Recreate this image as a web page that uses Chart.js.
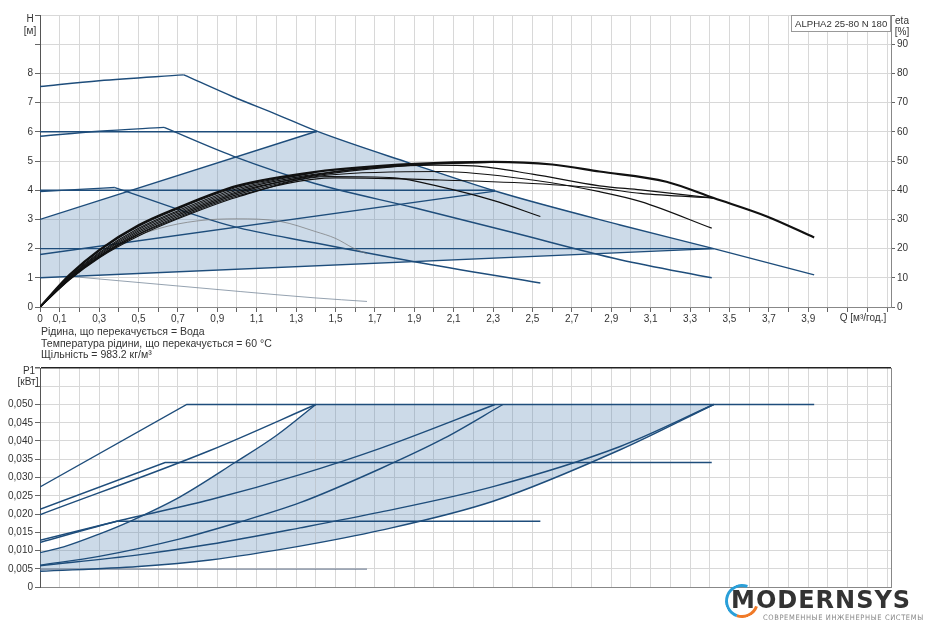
<!DOCTYPE html>
<html>
<head>
<meta charset="utf-8">
<title>ALPHA2 25-80 N 180</title>
<script src="https://cdn.jsdelivr.net/npm/chart.js@4.4.1/dist/chart.umd.min.js"></script>
<style>
    html, body { margin: 0; padding: 0; background: #fff; }
    body { width: 925px; height: 624px; position: relative; overflow: hidden;
           font-family: 'Liberation Sans', Arial, sans-serif; color: #333; }
    canvas { position: absolute; left: 0; }
    #headChart { top: 0; }
    #powerChart { top: 360px; }
    .lbl { position: absolute; font-size: 10px; white-space: nowrap; transform: translate(-50%, -50%); }
    .note { position: absolute; left: 41px; font-size: 10.5px; white-space: nowrap; line-height: 11.5px; }
    #model { position: absolute; left: 791px; top: 15px; width: 100px; height: 17px; border: 1px solid #999;
             background: #fff; font-size: 9.6px; line-height: 15px; padding-left: 3px; box-sizing: border-box;
             white-space: nowrap; overflow: hidden; }
    #ring { position: absolute; left: 725px; top: 584px; width: 28px; height: 28px; border-radius: 50%;
            border: 3px solid; border-color: #2a9fd8 transparent #f07a28 #2a9fd8; transform: rotate(-25deg); }
    #brand { position: absolute; left: 731px; top: 588px; font-family: 'DejaVu Sans', sans-serif; font-weight: bold;
             font-size: 24px; letter-spacing: 1px; color: #333; line-height: 24px; white-space: nowrap; }
    #slogan { position: absolute; left: 763px; top: 613px; font-family: 'DejaVu Sans Condensed', 'DejaVu Sans', sans-serif;
              font-size: 7.5px; letter-spacing: 0.6px; color: #888; line-height: 10px; white-space: nowrap; }
</style>
</head>
<body>
<canvas id="headChart" width="925" height="330"></canvas>
<canvas id="powerChart" width="925" height="240"></canvas>

<div class="lbl" style="left:30px;top:18px">H</div>
<div class="lbl" style="left:30px;top:30px">[м]</div>
<div class="lbl" style="left:902px;top:20px">eta</div>
<div class="lbl" style="left:902px;top:31px">[%]</div>
<div class="lbl" style="left:863px;top:317px">Q [м³/год.]</div>
<div id="model">ALPHA2 25-80 N 180</div>
<div class="note" style="top:326px">Рідина, що перекачується = Вода<br>Температура рідини, що перекачується = 60 °C<br>Щільність = 983.2 кг/м³</div>
<div class="lbl" style="left:29px;top:370px">P1</div>
<div class="lbl" style="left:28px;top:381px">[кВт]</div>

<div id="ring"></div>
<div id="brand">MODERNSYS</div>
<div id="slogan">СОВРЕМЕННЫЕ ИНЖЕНЕРНЫЕ СИСТЕМЫ</div>

<script>
// ===== Head curves [Q m³/h, H m] =====
const curve1Flat = [[0, 3.95], [0.2, 4.03], [0.38, 4.09]];
const curve1Drop = [[0.38, 4.09], [0.98, 2.76], [1.4, 2.19], [1.9, 1.55], [2.54, 0.82]];
const curve2Flat = [[0, 5.85], [0.3, 6.02], [0.63, 6.15]];
const curve2Drop = [[0.63, 6.15], [0.98, 5.17], [1.4, 4.22], [1.9, 3.4], [2.4, 2.55], [2.945, 1.62], [3.41, 1.0]];
const curve3Flat = [[0, 7.55], [0.3, 7.75], [0.73, 7.95]];
const curve3Drop = [[0.73, 7.95], [0.98, 7.2], [1.2, 6.6], [1.405, 6.02], [1.88, 4.92], [2.336, 3.92], [2.945, 2.81], [3.42, 2.0], [3.93, 1.1]];
const cp1 = [[0, 2.0], [3.42, 2.0]];
const cp2 = [[0, 4.0], [2.31, 4.0]];
const cp3 = [[0, 6.0], [1.405, 6.0]];
const pp1 = [[0, 1.0], [3.42, 2.0]];
const pp2 = [[0, 1.8], [2.31, 3.97]];
const pp3 = [[0, 3.0], [1.405, 6.02]];
const minCurve = [[0.15, 1.05], [0.4, 0.9], [0.7, 0.72], [1.016, 0.53], [1.4, 0.31], [1.66, 0.19]];

// ===== Efficiency curves [Q m³/h, eta %] =====
const etaIII = [[0, 0], [0.15, 11], [0.3, 19.5], [0.5, 28], [0.7, 34], [1.0, 41.5], [1.4, 46.3], [1.9, 49], [2.3, 49.7], [2.6, 48.8], [2.84, 46.4], [3.18, 42.9], [3.42, 37.3], [3.69, 31], [3.93, 23.8]];
const etaCP3 = [[0, 0], [0.15, 10.8], [0.3, 19.2], [0.5, 27.6], [0.7, 33.6], [1.0, 41], [1.4, 46.2]];
const etaPP3 = [[0, 0], [0.15, 10.4], [0.3, 18.6], [0.5, 27], [0.7, 33], [1.0, 40.5], [1.4, 46.2]];
const etaCP2 = [[0, 0], [0.15, 10.2], [0.3, 18.2], [0.5, 26.5], [0.7, 32.5], [1.0, 40], [1.4, 45.5], [1.9, 48.8], [2.31, 49.6]];
const etaPP2 = [[0, 0], [0.15, 10], [0.3, 17.8], [0.5, 26], [0.7, 32], [1.0, 39.5], [1.4, 45], [1.9, 48.6], [2.31, 49.6]];
const etaCP1 = [[0, 0], [0.15, 9.8], [0.3, 17.4], [0.5, 25.5], [0.7, 31.5], [1.0, 39], [1.47, 46], [2.0, 48.6], [2.2, 48.3], [2.5, 45.5], [2.84, 41.5], [3.05, 40.1], [3.42, 37.3]];
const etaPP1 = [[0, 0], [0.15, 9.5], [0.3, 17], [0.5, 24.8], [0.7, 30.5], [1.0, 38], [1.5, 44.2], [2.03, 43.5], [2.5, 42.3], [2.84, 40.7], [3.05, 38.9], [3.42, 37.3]];
const etaII = [[0, 0], [0.15, 9.6], [0.3, 17.2], [0.5, 25], [0.7, 31], [1.0, 38.5], [1.47, 45.2], [2.03, 46.4], [2.5, 43.5], [2.84, 39.5], [3.05, 36.1], [3.41, 27]];
const etaI = [[0, 0], [0.15, 9.3], [0.3, 16.8], [0.5, 24.3], [0.7, 30.2], [1.0, 37.6], [1.47, 44.7], [1.8, 44.2], [2.03, 41.2], [2.3, 36.5], [2.54, 31]];
const etaMin = [[0, 0], [0.2, 12.5], [0.4, 21.5], [0.6, 26.8], [0.8, 29.5], [1.0, 30.2], [1.22, 29.3], [1.4, 25.8], [1.5, 23.5], [1.59, 20.2], [1.66, 18.2]];

// ===== Power curves [Q m³/h, P1 kW] =====
const power3 = [[0, 0.0274], [0.745, 0.05], [3.93, 0.05]];
const power2 = [[0, 0.0213], [0.635, 0.0341], [3.41, 0.0341]];
const power1 = [[0, 0.0128], [0.39, 0.018], [2.54, 0.018]];
const powerPP3 = [[0, 0.0198], [0.863, 0.0374], [1.4, 0.05]];
const powerPP2 = [[0, 0.0122], [0.39, 0.018], [0.863, 0.0239], [1.32, 0.0308], [1.727, 0.038], [2.31, 0.05]];
const powerCP3 = [[0, 0.0094], [0.12, 0.011], [0.3, 0.0145], [0.457, 0.018], [0.711, 0.0247], [0.99, 0.0341], [1.2, 0.0415], [1.4, 0.05]];
const powerCP2 = [[0, 0.006], [0.3, 0.0084], [0.711, 0.0132], [1.0, 0.0176], [1.32, 0.0231], [1.727, 0.0324], [2.05, 0.0407], [2.35, 0.05]];
const powerCP1 = [[0, 0.0058], [0.5, 0.0088], [0.863, 0.0117], [1.32, 0.0162], [1.727, 0.0205], [2.3, 0.0275], [2.945, 0.0385], [3.42, 0.05]];
const powerPP1 = [[0, 0.0043], [0.5, 0.0056], [0.863, 0.0074], [1.32, 0.0112], [1.727, 0.0155], [2.3, 0.0235], [2.945, 0.0376], [3.42, 0.05]];
const powerMin = [[0, 0.0049], [1.66, 0.0049]];
const powerTop = [[1.4, 0.05], [3.42, 0.05]];

// ===== Styles =====
const BLUE = '#1e4d7b';
const BLACK = '#111';
const THIN = '#7a8a9c';
const AREA = 'rgba(95, 140, 185, 0.32)';
const GRID = '#d8d8d8';
const AXIS = '#666';
const tickFont = { family: "'Liberation Sans', Arial, sans-serif", size: 10 };

const pts = arr => arr.map(p => ({ x: p[0], y: p[1] }));

function lineSet(arr, color, width, extra) {
    const ds = Object.assign({
        data: pts(arr),
        borderColor: color,
        borderWidth: width,
        pointRadius: 0,
        fill: false,
        tension: arr.length > 2 ? 0.4 : 0,
        order: 1
    }, extra || {});
    // straight polylines keep their corners, curves get monotone smoothing
    ds.cubicInterpolationMode = ds.tension ? 'monotone' : 'default';
    return ds;
}

function tickList(count, step) {
    const list = [];
    for (let i = 0; i <= count; i++) list.push({ value: Math.round(i * step * 1000) / 1000 });
    return list;
}

const qLabel = v => {
    const i = Math.round(v * 10);
    if (i === 0) return '0';
    return (i % 2 === 1 && i <= 39) ? (i / 10).toFixed(1).replace('.', ',') : '';
};

const baseOptions = {
    responsive: false,
    animation: false,
    devicePixelRatio: 1,
    plugins: { legend: { display: false }, tooltip: { enabled: false } }
};

// ===== Head / efficiency chart =====
function initializeHeadChart() {
    const areaTop = pp3.concat(curve3Drop.filter(p => p[0] > 1.405 && p[0] <= 3.42));
    const etaOpts = { yAxisID: 'y2', order: 0 };
    const datasets = [
        lineSet(pp1, BLUE, 1.4),
        lineSet(pp2, BLUE, 1.4),
        lineSet(pp3, BLUE, 1.4),
        lineSet(cp1, BLUE, 1.4),
        lineSet(cp2, BLUE, 1.4),
        lineSet(cp3, BLUE, 1.4),
        lineSet(curve1Flat, BLUE, 1.4),
        lineSet(curve1Drop, BLUE, 1.4),
        lineSet(curve2Flat, BLUE, 1.4),
        lineSet(curve2Drop, BLUE, 1.4),
        lineSet(curve3Flat, BLUE, 1.4),
        lineSet(curve3Drop, BLUE, 1.4),
        lineSet(minCurve, THIN, 0.8),
        lineSet(etaIII, BLACK, 2.2, etaOpts),
        lineSet(etaCP3, BLACK, 1.1, etaOpts),
        lineSet(etaPP3, BLACK, 1.1, etaOpts),
        lineSet(etaCP2, BLACK, 1.1, etaOpts),
        lineSet(etaPP2, BLACK, 1.1, etaOpts),
        lineSet(etaCP1, BLACK, 1.2, etaOpts),
        lineSet(etaPP1, BLACK, 1.2, etaOpts),
        lineSet(etaII, BLACK, 1.2, etaOpts),
        lineSet(etaI, BLACK, 1.2, etaOpts),
        lineSet(etaMin, '#777', 0.7, etaOpts),
        // AUTOadapt area, filled down to pp1 (dataset 0)
        lineSet(areaTop, 'rgba(0,0,0,0)', 0, { tension: 0, fill: 0, backgroundColor: AREA, order: 2 })
    ];

    new Chart(document.getElementById('headChart'), {
        type: 'line',
        data: { datasets: datasets },
        options: Object.assign({}, baseOptions, {
            layout: { padding: { top: 15, left: 0, right: 0, bottom: 0 } },
            scales: {
                x: {
                    type: 'linear', min: 0, max: 4.32,
                    afterBuildTicks: s => { s.ticks = tickList(43, 0.1); },
                    afterFit: s => { s.height = 23; },
                    grid: { color: GRID, tickColor: AXIS, tickLength: 5 },
                    border: { color: '#888' },
                    ticks: { autoSkip: false, maxRotation: 0, padding: 1, font: tickFont, color: '#333', callback: qLabel }
                },
                y: {
                    position: 'left', min: 0, max: 10,
                    afterBuildTicks: s => { s.ticks = tickList(10, 1); },
                    afterFit: s => { s.width = 40; },
                    grid: { color: GRID, tickColor: AXIS, tickLength: 5 },
                    border: { color: '#555' },
                    ticks: { padding: 2, font: tickFont, color: '#333', callback: v => v <= 8 ? String(v) : '' }
                },
                y2: {
                    position: 'right', min: 0, max: 100,
                    afterBuildTicks: s => { s.ticks = tickList(10, 10); },
                    afterFit: s => { s.width = 34; },
                    grid: { drawOnChartArea: false, tickColor: AXIS, tickLength: 4 },
                    border: { color: '#888' },
                    ticks: { padding: 2, font: tickFont, color: '#333', callback: v => v <= 90 ? String(v) : '' }
                }
            }
        })
    });
}

// ===== Power chart =====
function initializePowerChart() {
    const datasets = [
        lineSet(powerPP1, BLUE, 1.4),
        lineSet(powerCP1, BLUE, 1.4),
        lineSet(powerCP2, BLUE, 1.4),
        lineSet(powerCP3, BLUE, 1.4),
        lineSet(powerPP2, BLUE, 1.4),
        lineSet(powerPP3, BLUE, 1.4),
        lineSet(power1, BLUE, 1.4, { tension: 0 }),
        lineSet(power2, BLUE, 1.4, { tension: 0 }),
        lineSet(power3, BLUE, 1.4, { tension: 0 }),
        lineSet(powerMin, '#5f7088', 1),
        // shaded area between the steep curve / top line and powerPP1 (dataset 0)
        lineSet(powerCP3, 'rgba(0,0,0,0)', 0, { fill: 0, backgroundColor: AREA, order: 2 }),
        lineSet(powerTop, 'rgba(0,0,0,0)', 0, { fill: 0, backgroundColor: AREA, order: 2 })
    ];

    const isTop = c => c.tick && c.tick.value >= 0.0599;

    new Chart(document.getElementById('powerChart'), {
        type: 'line',
        data: { datasets: datasets },
        options: Object.assign({}, baseOptions, {
            layout: { padding: { top: 5, left: 0, right: 0, bottom: 0 } },
            scales: {
                x: {
                    type: 'linear', min: 0, max: 4.32,
                    afterBuildTicks: s => { s.ticks = tickList(43, 0.1); },
                    afterFit: s => { s.height = 13; },
                    grid: { color: GRID, drawTicks: false },
                    border: { color: '#888' },
                    ticks: { display: false, autoSkip: false }
                },
                y: {
                    position: 'left', min: 0, max: 0.06,
                    afterBuildTicks: s => { s.ticks = tickList(12, 0.005); },
                    afterFit: s => { s.width = 40; },
                    grid: {
                        color: c => isTop(c) ? '#222' : GRID,
                        lineWidth: c => isTop(c) ? 1.5 : 1,
                        tickColor: AXIS, tickLength: 5
                    },
                    border: { color: '#555' },
                    ticks: {
                        padding: 2, font: tickFont, color: '#333',
                        callback: v => {
                            const k = Math.round(v * 200);
                            if (k === 0) return '0';
                            return k <= 10 ? (k * 0.005).toFixed(3).replace('.', ',') : '';
                        }
                    }
                },
                yr: {
                    position: 'right', min: 0, max: 0.06,
                    afterFit: s => { s.width = 34; },
                    grid: { display: false },
                    border: { display: true, color: '#888' },
                    ticks: { display: false }
                }
            }
        })
    });
}

initializeHeadChart();
initializePowerChart();
</script>
</body>
</html>
